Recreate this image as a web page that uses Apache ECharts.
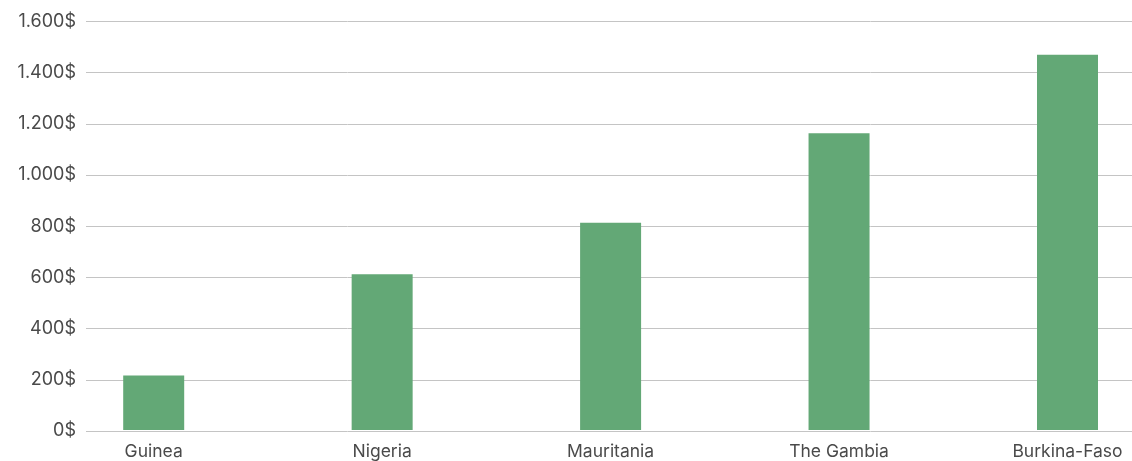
<!DOCTYPE html>
<html><head><meta charset="utf-8">
<script src="https://cdn.jsdelivr.net/npm/echarts@6/dist/echarts.min.js"></script>
<style>html,body{margin:0;padding:0;background:#fff}#c{width:1132px;height:461px}</style>
</head><body><div id="c"></div>
<script>
const categories = ["Guinea", "Nigeria", "Mauritania", "The Gambia", "Burkina-Faso"];
const values = [213, 610, 812, 1162, 1470];
const yMin = 0, yMax = 1600, yStep = 200;

const fmt = v => String(v).replace(/\B(?=(\d{3})+(?!\d))/g, ".") + "$";
const font = "Inter, 'Liberation Sans', sans-serif";
const chart = echarts.init(document.getElementById('c'), null, {renderer: 'canvas'});
chart.setOption({
  animation: false,
  grid: [
    {left: 86, right: 0, top: 21.5, bottom: 30, containLabel: false},
    {left: 153.7, right: 64.5, top: 21.5, bottom: 30, containLabel: false}
  ],
  xAxis: [
    {gridIndex: 0, type: 'category', data: categories, show: false},
    {gridIndex: 1, type: 'category', data: categories, boundaryGap: false,
      axisLine: {show: false}, axisTick: {show: false},
      axisLabel: {color: '#4a4a4a', fontSize: 17.5, fontFamily: font, margin: 13, interval: 0}}
  ],
  yAxis: [
    {gridIndex: 0, type: 'value', min: yMin, max: yMax, interval: yStep,
      axisLine: {show: false}, axisTick: {show: false},
      splitLine: {lineStyle: {color: '#c4c4c4', width: 1}},
      axisLabel: {color: '#4a4a4a', fontSize: 18, fontFamily: font, margin: 10, formatter: fmt}},
    {gridIndex: 1, type: 'value', min: yMin, max: yMax, interval: yStep, show: false,
      splitLine: {show: false}}
  ],
  series: [{
    type: 'bar', xAxisIndex: 1, yAxisIndex: 1, data: values,
    barWidth: 61, itemStyle: {color: '#63A876'}
  }]
});
</script></body></html>
